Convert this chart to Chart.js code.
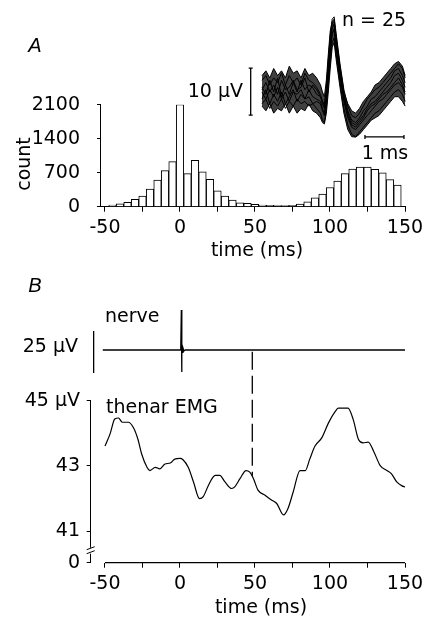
<!DOCTYPE html>
<html>
<head>
<meta charset="utf-8">
<script src="https://cdn.jsdelivr.net/npm/chart.js@4.4.0/dist/chart.umd.min.js"></script>
<style>
  html, body { margin: 0; padding: 0; background: #fff; width: 427px; height: 619px; overflow: hidden; position: relative; }
  canvas { position: absolute; left: 0; }
  .lbl { position: absolute; font-family: 'DejaVu Sans', sans-serif; font-size: 19px; line-height: 1; color: #000; white-space: nowrap; }
  .c { transform: translate(-50%, -50%); }
  .l { transform: translateY(-50%); }
  .r { transform: translate(-100%, -50%); }
  .panel { font-size: 20px; font-style: italic; font-family: 'Liberation Sans', sans-serif; }
</style>
</head>
<body>
<canvas id="histChart" style="top:0" width="440" height="270"></canvas>
<canvas id="spikeChart" style="top:0" width="440" height="180"></canvas>
<canvas id="nerveChart" style="top:290px" width="440" height="120"></canvas>
<canvas id="emgChart" style="top:330px" width="440" height="289"></canvas>

<div class="lbl c panel" style="left:35px; top:45px">A</div>
<div class="lbl c panel" style="left:35px; top:285px">B</div>
<div class="lbl c" style="left:374px; top:19px">n = 25</div>
<div class="lbl r" style="left:243px; top:90px">10 μV</div>
<div class="lbl c" style="left:385px; top:152px">1 ms</div>
<div class="lbl c" style="left:23px; top:164px; transform: translate(-50%,-50%) rotate(-90deg)">count</div>
<div class="lbl c" style="left:257px; top:249px">time (ms)</div>
<div class="lbl l" style="left:105px; top:315px">nerve</div>
<div class="lbl l" style="left:106px; top:406px">thenar EMG</div>
<div class="lbl c" style="left:261px; top:606px">time (ms)</div>

<script>
// A: histogram (5 ms bins)
const binCenters = [-45, -40, -35, -30, -25, -20, -15, -10, -5, 0, 5, 10, 15, 20, 25, 30, 35, 40, 45, 50,
                    55, 60, 65, 70, 75, 80, 85, 90, 95, 100, 105, 110, 115, 120, 125, 130, 135, 140, 145];
const binCounts  = [34, 61, 89, 150, 218, 361, 546, 743, 928, 2100, 682, 955, 720, 562, 327, 218, 136, 82, 68, 48,
                    32, 28, 25, 25, 30, 55, 102, 184, 259, 396, 525, 682, 777, 818, 818, 770, 696, 559, 443];
const countTicks = [0, 700, 1400, 2100];
const timeTicks  = [-50, -25, 0, 25, 50, 75, 100, 125, 150];

// A inset: superimposed spikes (ms, uV)
const spikeTime = [0, 0.1, 0.2, 0.3, 0.4, 0.5, 0.6, 0.7, 0.8, 0.9, 1.0, 1.1, 1.2, 1.3, 1.4, 1.5,
                   1.55, 1.6, 1.65, 1.7, 1.75, 1.8, 1.85, 1.9,
                   2.0, 2.1, 2.2, 2.3, 2.4, 2.5, 2.6, 2.7, 2.8, 2.9, 3.0, 3.1, 3.2, 3.3, 3.4, 3.5, 3.6, 3.67];
const spikeHigh = [3.5, 4.5, 3, 5, 3.5, 4.5, 3, 5.5, 4, 4.5, 3, 5, 3.5, 4, 3, 1.5, 0, -1, 2.5, 8,
                   13, 15, 15.5, 12, 5.5, 0, -2.5, -4, -4.5, -3.5, -2, -1, 0, 1.5, 2, 3, 4, 5, 6, 6.5, 5.5, 3.5];
const spikeLow  = [-3, -4, -2.5, -4.5, -3.5, -4, -2.5, -4.5, -3, -4.5, -3.5, -4, -2.5, -4, -4.5, -5.5, -6.5, -6.8, -4.5, 0,
                   5, 9.5, 10.5, 7, 1, -4.5, -8, -9.5, -9.6, -9, -8, -7, -6, -5.5, -5, -4, -3, -2, -1, -1, -2, -3];
const spikeA = [2.5, 3.5, 1.5, 3, 2, 4, 1.5, 3.5, 2, 3, 1.5, 4, 2.5, 2, 1, -0.5, -2, -2.5, 1, 7,
                12, 15.5, 16, 12.5, 6, 0.5, -3, -5, -5.5, -4.5, -3, -1.5, -0.5, 0.5, 1, 2, 3, 4, 5, 6, 5, 3];
const spikeB = [-2.5, -1.5, -3.5, -2, -3, -1.5, -3.5, -2, -3, -1.5, -2.5, -2, -3, -2.5, -3.5, -4.5, -6, -6.5, -3.5, 1.5,
                6.5, 10.5, 11.5, 8, 2, -3.5, -7, -9, -9.5, -8.5, -7.5, -6.5, -5.5, -4.5, -4, -3, -2, -1, 0, 0.5, -0.5, -2];
const spikeC = [1, -0.5, 2.5, 0, 3, -1, 1.5, -0.5, 2, 0, 2.5, 0.5, 1.5, 1, -0.5, -1, -2.5, -3.5, -0.5, 4.5,
                9.5, 13.5, 14.5, 11, 4.5, -1, -4.5, -6.5, -7, -6, -5, -3.5, -2.5, -2, -1, 0, 1, 2, 3.5, 4, 2.5, 1];
const spikeD = [-1.5, 0.5, -2.5, -0.5, -2, 0, -2.5, -1, 0.5, -2, -0.5, -1.5, -1, -2.5, -2, -2.5, -4, -5, -2, 3,
                8, 12.5, 13, 9.5, 3, -2, -5.5, -7.5, -8, -7, -6, -5, -4, -3, -2, -1.5, -0.5, 0.5, 1.5, 2, 1, -0.5];
const spikeE = [0.5, 2, 0, 1.5, -0.5, 2.5, 0.5, 1, 2.5, 0.5, 1, 3, 0, 1.5, 0.5, -1, -2, -3, 0, 5.5,
                10.5, 14.5, 15, 11.5, 5, -0.5, -4, -6, -6.5, -5.5, -4, -3, -1.5, -1, 0, 1, 2, 3, 4.5, 5, 3.5, 2];
const spikeF = [0, -1.5, 0.5, -1, 1, -1.5, 0, -2, 0, -0.5, 0.5, -1.5, 0.5, -1, -1.5, -2, -3.5, -4.5, -1.5, 3.5,
                8.5, 12.5, 13.5, 10, 3.5, -1.5, -5, -7, -7.5, -6.5, -5.5, -4, -3, -2.5, -1.5, -0.5, 0, 1, 2, 3, 1.5, 0];
const scaleBarUv = 10;   // vertical bar
const scaleBarMs = 1;    // horizontal bar

// B: nerve recording and thenar EMG
const nerveTime  = [-51.5, 0, 0.5, 0.9, 1.1, 1.3, 1.6, 2.0, 2.6, 3.5, 150];
const nerveValue = [0, 0, 0.8, 25, -13.7, 2, -1.5, 1.2, -0.6, 0, 0];
const emgTime  = [-50, -46.5, -43.5, -41, -38.5, -34.5, -31, -28, -25.5, -22, -20, -16.5, -13.5, -10, -6.5, -3.5, 0, 2, 5.5, 9,
                  13, 15.5, 19, 23.5, 26.5, 30, 34.5, 36.5, 40, 44, 46.5, 49, 52, 56.5, 61, 64.5, 69, 72, 75.5, 80,
                  83.5, 86.5, 90, 94.5, 99, 103.5, 105.5, 112, 115.5, 119, 122, 125.5, 129, 133.5, 138, 141, 144.5, 148, 150];
const emgValue = [43.61, 44.0, 44.44, 44.47, 44.34, 44.34, 44.17, 43.81, 43.36, 42.96, 42.86, 42.96, 42.91, 43.06, 43.09, 43.21, 43.23, 43.19, 42.96, 42.51,
                  42.0, 42.06, 42.41, 42.71, 42.71, 42.51, 42.31, 42.36, 42.61, 42.86, 42.81, 42.61, 42.26, 42.11, 41.96, 41.85, 41.5, 41.7, 42.21, 42.86,
                  42.86, 43.21, 43.61, 43.86, 44.32, 44.67, 44.77, 44.77, 44.42, 43.81, 43.71, 43.73, 43.46, 43.01, 42.86, 42.76, 42.51, 42.39, 42.36];
const emgTicks = [41, 43, 45];
const emgBottom = 40.036;        // value at the broken-axis "0"
const dashTime = 48.2;           // stimulus-locked marker
const dashRange = [46.5, 42.7];

const FONT = 'DejaVu Sans';
Chart.defaults.font.family = FONT;
Chart.defaults.color = '#000';

const xy = (xs, ys) => xs.map((x, i) => ({ x: x, y: ys[i] }));
const tickGrid = (len) => ({ display: true, drawOnChartArea: false, drawTicks: true, tickLength: len, color: '#000', lineWidth: 1, offset: false });

// ---------- A: histogram ----------
new Chart(document.getElementById('histChart'), {
    type: 'bar',
    data: {
        datasets: [{
            data: xy(binCenters, binCounts),
            backgroundColor: '#fff',
            borderColor: '#000',
            borderWidth: 1,
            barPercentage: 1,
            categoryPercentage: 1
        }]
    },
    options: {
        responsive: false, animation: false,
        layout: { padding: { left: 0, top: 104.7, right: 35, bottom: 23.3 } },
        plugins: { legend: { display: false }, tooltip: { enabled: false } },
        scales: {
            x: {
                type: 'linear', min: -53.33, max: 150, offset: false,
                afterBuildTicks: s => { s.ticks = timeTicks.map(v => ({ value: v })); },
                afterFit: s => { s.height = 40; },
                grid: tickGrid(5),
                border: { display: true, color: '#000', width: 1 },
                ticks: { font: { size: 19 }, padding: 4.9, maxRotation: 0, autoSkip: false,
                         callback: v => (v % 50 === 0 ? String(v) : '') }
            },
            y: {
                min: 0, max: 2100,
                afterBuildTicks: s => { s.ticks = countTicks.map(v => ({ value: v })); },
                afterFit: s => { s.width = 100; },
                grid: tickGrid(3),
                border: { display: true, color: '#000', width: 1 },
                ticks: { font: { size: 19 }, padding: 17, callback: v => String(v) }
            }
        }
    }
});

// ---------- A inset: spikes ----------
const spikeBars = {
    id: 'spikeBars',
    afterDatasetsDraw(chart) {
        const { ctx, scales: { x, y } } = chart;
        ctx.save();
        ctx.strokeStyle = '#000';
        ctx.lineWidth = 1.3;
        ctx.beginPath();
        // vertical 10 uV bar
        const vx = x.getPixelForValue(-0.29);
        const v0 = y.getPixelForValue(-4.9), v1 = y.getPixelForValue(-4.9 + scaleBarUv);
        ctx.moveTo(vx, v0); ctx.lineTo(vx, v1);
        ctx.moveTo(vx - 2, v0); ctx.lineTo(vx + 2, v0);
        ctx.moveTo(vx - 2, v1); ctx.lineTo(vx + 2, v1);
        // horizontal 1 ms bar
        const hy = y.getPixelForValue(-9.57);
        const h0 = x.getPixelForValue(2.64), h1 = x.getPixelForValue(2.64 + scaleBarMs);
        ctx.moveTo(h0, hy); ctx.lineTo(h1, hy);
        ctx.moveTo(h0, hy - 2); ctx.lineTo(h0, hy + 2);
        ctx.moveTo(h1, hy - 2); ctx.lineTo(h1, hy + 2);
        ctx.stroke();
        ctx.restore();
    }
};

const spikeLine = (vals, extra) => Object.assign({
    data: xy(spikeTime, vals), borderColor: '#000', borderWidth: 1,
    pointRadius: 0, tension: 0, fill: false
}, extra || {});

new Chart(document.getElementById('spikeChart'), {
    type: 'line',
    data: {
        datasets: [
            spikeLine(spikeHigh, { fill: '+1', backgroundColor: 'rgba(0,0,0,0.75)' }),
            spikeLine(spikeLow),
            spikeLine(spikeA), spikeLine(spikeB), spikeLine(spikeC),
            spikeLine(spikeD), spikeLine(spikeE), spikeLine(spikeF)
        ]
    },
    options: {
        responsive: false, animation: false,
        layout: { padding: { left: 245, top: 10, right: 30, bottom: 20 } },
        plugins: { legend: { display: false }, tooltip: { enabled: false } },
        scales: {
            x: { type: 'linear', display: false, min: -0.436, max: 3.795 },
            y: { display: false, min: -14.47, max: 17.45 }
        }
    },
    plugins: [spikeBars]
});

// ---------- B: nerve ----------
new Chart(document.getElementById('nerveChart'), {
    type: 'line',
    data: {
        datasets: [{
            data: xy(nerveTime, nerveValue), borderColor: '#000', borderWidth: 1.3,
            pointRadius: 0, tension: 0, clip: false
        }]
    },
    options: {
        responsive: false, animation: false,
        layout: { padding: { left: 0, top: 42, right: 35, bottom: 38 } },
        plugins: { legend: { display: false }, tooltip: { enabled: false } },
        scales: {
            x: { type: 'linear', display: false, min: -57.8, max: 150 },
            y: {
                min: -13.75, max: 11.25,
                afterBuildTicks: s => { s.ticks = [{ value: 0 }]; },
                afterFit: s => { s.width = 93.3; },
                grid: { display: false, drawTicks: false },
                border: { display: true, color: '#000', width: 1.3 },
                ticks: { font: { size: 19 }, padding: 15.3, labelOffset: -3, callback: () => '25 μV' }
            }
        }
    }
});

// ---------- B: thenar EMG ----------
const brokenAxis = {
    id: 'brokenAxis',
    afterDraw(chart) {
        const { ctx, chartArea, scales: { x } } = chart;
        ctx.save();
        ctx.strokeStyle = '#000';
        ctx.lineWidth = 1.2;
        ctx.beginPath();
        ctx.moveTo(x.getPixelForValue(timeTicks[0]), chartArea.bottom);
        ctx.lineTo(x.getPixelForValue(timeTicks[timeTicks.length - 1]), chartArea.bottom);
        ctx.stroke();
        const bx = chartArea.left, by = chartArea.bottom - 12;
        ctx.fillStyle = '#fff';
        ctx.fillRect(bx - 3, by - 3, 6, 6);
        ctx.lineWidth = 1;
        ctx.beginPath();
        ctx.moveTo(bx - 4, by - 1); ctx.lineTo(bx + 4, by - 4);
        ctx.moveTo(bx - 4, by + 3); ctx.lineTo(bx + 4, by);
        ctx.stroke();
        ctx.restore();
    }
};

new Chart(document.getElementById('emgChart'), {
    type: 'line',
    data: {
        datasets: [
            { data: xy(emgTime, emgValue), borderColor: '#000', borderWidth: 1.2,
              pointRadius: 0, cubicInterpolationMode: 'monotone' },
            { data: xy([dashTime, dashTime], dashRange), borderColor: '#000', borderWidth: 1.3,
              borderDash: [18, 6], pointRadius: 0, clip: false }
        ]
    },
    options: {
        responsive: false, animation: false,
        layout: { padding: { left: 0, top: 70.7, right: 35, bottom: 16.3 } },
        plugins: { legend: { display: false }, tooltip: { enabled: false } },
        scales: {
            x: {
                type: 'linear', min: -59.53, max: 150,
                afterBuildTicks: s => { s.ticks = timeTicks.map(v => ({ value: v })); },
                afterFit: s => { s.height = 40; },
                grid: tickGrid(5),
                border: { display: false },
                ticks: { font: { size: 19 }, padding: 4.9, maxRotation: 0, autoSkip: false,
                         callback: v => (v % 50 === 0 ? String(v) : '') }
            },
            y: {
                min: emgBottom, max: 45,
                afterBuildTicks: s => { s.ticks = [emgBottom].concat(emgTicks).map(v => ({ value: v })); },
                afterFit: s => { s.width = 90.7; },
                grid: tickGrid(4),
                border: { display: true, color: '#000', width: 1 },
                ticks: { font: { size: 19 }, padding: 6.7,
                         callback: v => (v === emgBottom ? '0' : (v === 45 ? '45 μV' : String(v))) }
            }
        }
    },
    plugins: [brokenAxis]
});
</script>
</body>
</html>
